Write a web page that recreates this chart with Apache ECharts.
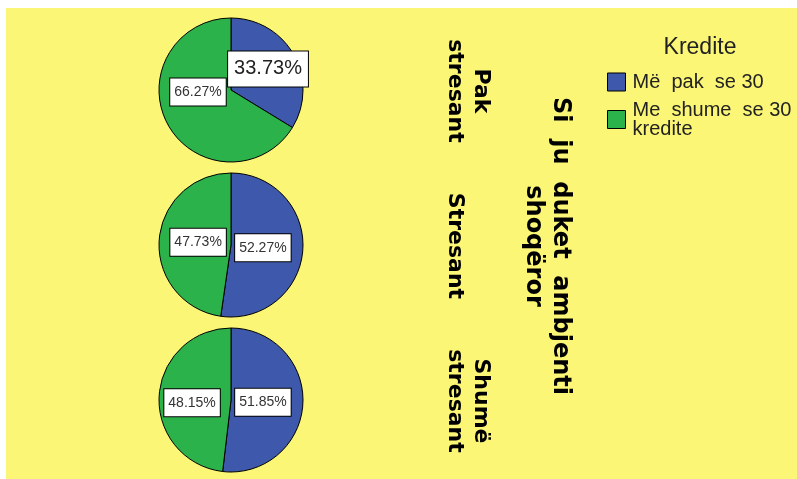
<!DOCTYPE html>
<html>
<head>
<meta charset="utf-8">
<script src="https://cdn.jsdelivr.net/npm/echarts@6/dist/echarts.min.js"></script>
<style>
  html, body { margin: 0; padding: 0; background: #ffffff; width: 797px; height: 479px; overflow: hidden; }
  #chart { position: absolute; left: 6px; top: 8px; width: 791px; height: 471px; background: #FBF675; }
</style>
</head>
<body>
<div id="chart"></div>
<script>
// ---- data ----
const legendTitle = 'Kredite';
const categories = ['Më  pak  se 30', 'Me  shume  se 30\nkredite'];
const facetTitle = 'Si  ju  duket  ambjenti\nshoqëror';
const rowLabels = ['Pak\nstresant', 'Stresant', 'Shumë\nstresant'];
const lessThan30 = [33.73, 52.27, 51.85];   // Më pak se 30
const moreThan30 = [66.27, 47.73, 48.15];   // Me shume se 30 kredite

// ---- styling / layout ----
const colors = ['#3E58AC', '#2CB24B'];
const pieCenters = [[225, 82], [225, 237], [225, 392]];
const labelNudges = [
  [[3, -2], [1, -17]],
  [[-7, 0], [6, 0]],
  [[-7, 0], [0, 5]]
];
const rowLabelY = [83, 238, 393];

const chart = echarts.init(document.getElementById('chart'), null, { renderer: 'canvas' });

const series = rowLabels.map(function (row, r) {
  return {
    type: 'pie',
    name: row,
    center: pieCenters[r],
    radius: 72,
    startAngle: 90,
    clockwise: true,
    silent: true,
    animation: false,
    avoidLabelOverlap: false,
    itemStyle: { borderColor: '#000', borderWidth: 1 },
    label: {
      show: true,
      position: 'inside',
      formatter: function (p) { return p.value.toFixed(2) + '%'; },
      fontFamily: 'Liberation Sans, Arial, sans-serif',
      fontSize: 14,
      color: '#333',
      backgroundColor: '#ffffff',
      borderColor: '#000',
      borderWidth: 1,
      padding: [7, 4, 6, 4]
    },
    labelLine: { show: false },
    emphasis: { disabled: true },
    labelLayout: function (params) {
      const n = labelNudges[r][params.dataIndex];
      return { dx: n[0], dy: n[1] };
    },
    data: [
      {
        name: categories[0], value: lessThan30[r],
        itemStyle: { color: colors[0] },
        label: r === 0 ? { fontSize: 20, color: '#222', padding: [8, 6, 7, 6] } : undefined
      },
      { name: categories[1], value: moreThan30[r], itemStyle: { color: colors[1] } }
    ]
  };
});

const graphics = rowLabels.map(function (row, r) {
  return {
    type: 'text',
    x: 436,
    y: rowLabelY[r],
    rotation: -Math.PI / 2,
    silent: true,
    style: {
      text: row,
      fontFamily: 'DejaVu Sans, Verdana, sans-serif',
      fontWeight: 'bold',
      fontSize: 22,
      lineHeight: 26,
      fill: '#000',
      align: 'center',
      verticalAlign: 'bottom'
    }
  };
});
graphics.push({
  type: 'text',
  x: 514,
  y: 238,
  rotation: -Math.PI / 2,
  silent: true,
  style: {
    text: facetTitle,
    fontFamily: 'DejaVu Sans, Verdana, sans-serif',
    fontWeight: 'bold',
    fontSize: 24,
    lineHeight: 27,
    fill: '#000',
    align: 'center',
    verticalAlign: 'bottom'
  }
});

chart.setOption({
  backgroundColor: '#FBF675',
  animation: false,
  title: {
    text: legendTitle,
    left: 694,
    top: 28,
    textAlign: 'center',
    padding: 0,
    textStyle: {
      fontFamily: 'Liberation Sans, Arial, sans-serif',
      fontWeight: 'normal',
      fontSize: 23,
      color: '#222'
    }
  },
  legend: {
    orient: 'vertical',
    left: 601,
    top: 64,
    padding: 0,
    itemGap: 8,
    itemWidth: 18,
    itemHeight: 18,
    icon: 'rect',
    selectedMode: false,
    itemStyle: { borderColor: '#000', borderWidth: 1 },
    textStyle: {
      fontFamily: 'Liberation Sans, Arial, sans-serif',
      fontSize: 20,
      lineHeight: 19,
      color: '#222',
      padding: [0, 0, 0, 2]
    },
    data: categories
  },
  graphic: graphics,
  series: series
});
</script>
</body>
</html>
